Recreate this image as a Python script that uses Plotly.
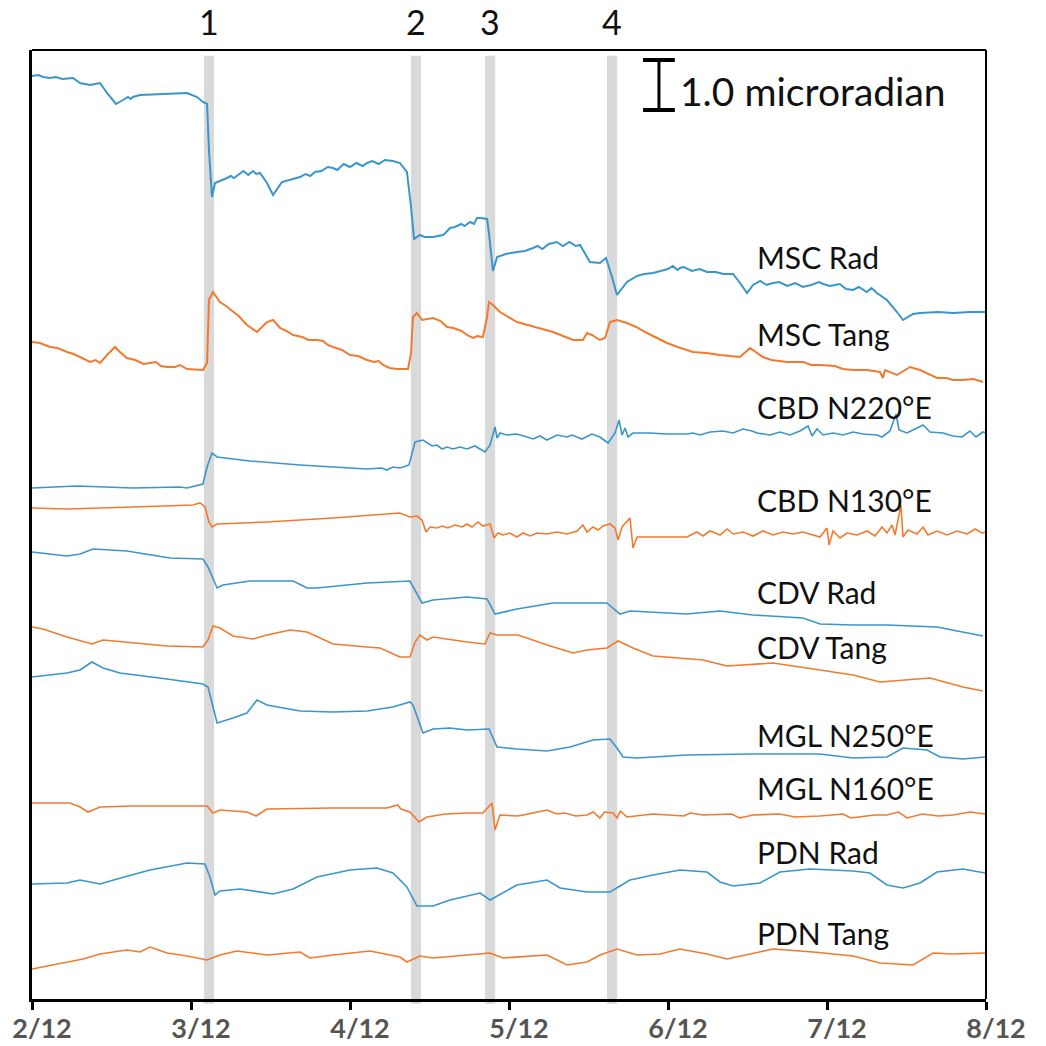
import plotly.graph_objects as go

# ---- x axis (months since 2/12) ----
tick_vals = [0, 1, 2, 3, 4, 5, 6]
tick_text = ["2/12", "3/12", "4/12", "5/12", "6/12", "7/12", "8/12"]

# event bands (month positions) and labels
event_t = [1.113, 2.415, 2.881, 3.648]
event_labels = ["1", "2", "3", "4"]

# ---- series: time (months since 2/12) and tilt change (microradian) ----
msc_rad_t = [0, 0.04, 0.07, 0.113, 0.15, 0.19, 0.258, 0.302, 0.365, 0.428, 0.472, 0.528, 0.572, 0.604, 0.62,
             0.635, 0.679, 0.849, 0.975, 1.038, 1.075, 1.101, 1.113, 1.132, 1.151, 1.226, 1.25, 1.27, 1.308,
             1.33, 1.36, 1.39, 1.41, 1.434, 1.478, 1.516, 1.572, 1.62, 1.686, 1.72, 1.75, 1.78, 1.82, 1.86,
             1.893, 1.92, 1.96, 2.00, 2.04, 2.08, 2.107, 2.14, 2.18, 2.22, 2.270, 2.314, 2.358, 2.384, 2.403,
             2.440, 2.47, 2.522, 2.55, 2.585, 2.60, 2.629, 2.66, 2.70, 2.72, 2.755, 2.78, 2.799, 2.82, 2.862,
             2.874, 2.899, 2.925, 2.98, 3.050, 3.10, 3.151, 3.18, 3.21, 3.25, 3.277, 3.30, 3.34, 3.38, 3.42,
             3.447, 3.509, 3.572, 3.610, 3.648, 3.679, 3.742, 3.805, 3.85, 3.906, 3.95, 4.00, 4.03, 4.06,
             4.075, 4.10, 4.15, 4.20, 4.245, 4.30, 4.35, 4.409, 4.453, 4.497, 4.535, 4.58, 4.62, 4.660, 4.70,
             4.75, 4.80, 4.849, 4.90, 4.95, 4.975, 5.02, 5.08, 5.12, 5.164, 5.20, 5.25, 5.28, 5.314, 5.377,
             5.440, 5.478, 5.541, 5.585, 5.70, 5.792, 5.90, 6.000]
msc_rad_v = [0, 0.02, -0.02, -0.04, -0.02, -0.06, -0.04, -0.14, -0.18, -0.14, -0.34, -0.56, -0.48, -0.42, -0.46,
             -0.42, -0.38, -0.36, -0.34, -0.42, -0.52, -0.56, -1.48, -2.42, -2.14, -2.04, -2.00, -2.04, -1.94,
             -1.90, -1.98, -1.90, -1.96, -1.94, -2.14, -2.38, -2.12, -2.08, -2.02, -1.96, -2.00, -1.92, -1.90, -1.82,
             -1.84, -1.88, -1.76, -1.82, -1.74, -1.80, -1.74, -1.70, -1.76, -1.68, -1.70, -1.74, -1.92, -2.62, -3.26,
             -3.18, -3.22, -3.22, -3.20, -3.18, -3.14, -3.04, -3.02, -2.96, -3.00, -2.92, -2.96, -2.84, -2.84, -2.86,
             -3.14, -3.90, -3.62, -3.56, -3.52, -3.50, -3.44, -3.40, -3.46, -3.36, -3.34, -3.32, -3.40, -3.32, -3.40,
             -3.38, -3.72, -3.74, -3.64, -4.02, -4.38, -4.12, -4.00, -3.96, -3.94, -3.90, -3.86, -3.80, -3.88,
             -3.84, -3.82, -3.90, -3.86, -3.92, -3.92, -3.96, -3.96, -4.14, -4.34, -4.18, -4.10, -4.18, -4.14, -4.12,
             -4.20, -4.14, -4.22, -4.18, -4.12, -4.16, -4.20, -4.16, -4.26, -4.28, -4.22, -4.32, -4.24, -4.34, -4.48,
             -4.72, -4.88, -4.76, -4.74, -4.72, -4.74, -4.72, -4.72]

msc_tang_t = [0, 0.05, 0.113, 0.16, 0.220, 0.26, 0.302, 0.34, 0.365, 0.40, 0.428, 0.472, 0.522, 0.553, 0.597,
              0.65, 0.70, 0.742, 0.78, 0.81, 0.849, 0.90, 0.93, 0.975, 1.075, 1.101, 1.113, 1.138, 1.182, 1.22,
              1.264, 1.30, 1.352, 1.415, 1.478, 1.516, 1.560, 1.60, 1.642, 1.70, 1.74, 1.792, 1.83, 1.86, 1.893,
              1.95, 2.000, 2.05, 2.107, 2.15, 2.18, 2.208, 2.25, 2.296, 2.365, 2.384, 2.396, 2.421, 2.453, 2.522,
              2.57, 2.610, 2.65, 2.70, 2.736, 2.774, 2.80, 2.836, 2.862, 2.874, 2.899, 2.943, 3.050, 3.12, 3.195,
              3.277, 3.34, 3.403, 3.465, 3.491, 3.522, 3.572, 3.604, 3.635, 3.679, 3.742, 3.80, 3.868, 3.994,
              4.06, 4.157, 4.24, 4.327, 4.453, 4.516, 4.597, 4.65, 4.748, 4.85, 4.90, 4.956, 5.05, 5.10, 5.164,
              5.25, 5.333, 5.352, 5.365, 5.440, 5.522, 5.585, 5.65, 5.692, 5.75, 5.792, 5.85, 5.92, 5.981]
msc_tang_v = [0, -0.02, -0.10, -0.12, -0.20, -0.24, -0.30, -0.36, -0.40, -0.36, -0.42, -0.26, -0.10, -0.20, -0.32,
              -0.36, -0.44, -0.42, -0.40, -0.48, -0.50, -0.50, -0.46, -0.54, -0.56, -0.42, 0.84, 1.00, 0.80, 0.72,
              0.60, 0.52, 0.34, 0.20, 0.40, 0.44, 0.28, 0.22, 0.14, 0.10, 0.04, 0.04, 0.02, -0.06, -0.10,
              -0.16, -0.26, -0.28, -0.36, -0.40, -0.38, -0.46, -0.52, -0.54, -0.54, -0.22, 0.50, 0.58, 0.44, 0.48,
              0.42, 0.30, 0.28, 0.22, 0.14, 0.08, 0.12, 0.10, 0.50, 0.80, 0.74, 0.60, 0.40, 0.34, 0.28,
              0.20, 0.12, 0.04, 0.04, 0.18, 0.14, 0.04, 0.08, 0.40, 0.44, 0.38, 0.30, 0.18, -0.02,
              -0.10, -0.20, -0.22, -0.26, -0.30, -0.12, -0.30, -0.36, -0.40, -0.40, -0.46, -0.46, -0.48, -0.54, -0.56,
              -0.56, -0.60, -0.72, -0.56, -0.66, -0.50, -0.56, -0.66, -0.72, -0.72, -0.76, -0.76, -0.74, -0.80]

cbd220_t = [0, 0.283, 0.635, 0.931, 0.975, 1.075, 1.101, 1.132, 1.164, 1.371, 1.686, 1.893, 2.107, 2.20, 2.23,
            2.27, 2.314, 2.371, 2.409, 2.459, 2.484, 2.516, 2.547, 2.579, 2.610, 2.648, 2.692, 2.736, 2.786,
            2.830, 2.849, 2.881, 2.912, 2.925, 2.943, 2.987, 3.050, 3.113, 3.151, 3.195, 3.239, 3.302, 3.365,
            3.396, 3.459, 3.522, 3.572, 3.623, 3.667, 3.692, 3.711, 3.730, 3.748, 3.780, 3.887, 3.994, 4.119,
            4.157, 4.201, 4.264, 4.346, 4.409, 4.472, 4.528, 4.560, 4.642, 4.704, 4.767, 4.830, 4.881, 4.906,
            4.937, 4.975, 5.038, 5.101, 5.164, 5.226, 5.314, 5.346, 5.396, 5.434, 5.453, 5.503, 5.566, 5.604,
            5.648, 5.730, 5.792, 5.849, 5.899, 5.937, 5.981, 6.0]
cbd220_v = [0, 0.04, 0, 0.02, 0, 0.08, 0.42, 0.70, 0.62, 0.54, 0.46, 0.42, 0.38, 0.40, 0.36,
            0.42, 0.40, 0.46, 0.92, 0.96, 0.90, 0.84, 0.86, 0.78, 0.82, 0.78, 0.82, 0.78, 0.84,
            0.76, 0.72, 0.86, 1.22, 1.00, 1.10, 1.06, 1.08, 1.02, 0.98, 1.04, 0.96, 1.06, 1.02,
            1.06, 0.98, 1.08, 1.02, 0.90, 1.10, 1.36, 1.06, 1.20, 1.02, 1.10, 1.10, 1.08, 1.08,
            1.10, 1.06, 1.12, 1.14, 1.10, 1.18, 1.14, 1.10, 1.06, 1.12, 1.06, 1.14, 1.24, 1.04,
            1.18, 1.06, 1.10, 1.06, 1.12, 1.08, 1.06, 1.02, 1.14, 1.48, 1.16, 1.10, 1.20, 1.26,
            1.12, 1.10, 1.04, 1.02, 1.14, 1.02, 1.12, 1.10]

cbd130_t = [0, 0.220, 0.635, 1.013, 1.057, 1.088, 1.113, 1.132, 1.164, 1.478, 1.893, 2.314, 2.377, 2.421,
            2.453, 2.478, 2.503, 2.547, 2.579, 2.616, 2.660, 2.704, 2.736, 2.767, 2.805, 2.836, 2.881, 2.906,
            2.931, 2.962, 3.006, 3.050, 3.088, 3.132, 3.176, 3.239, 3.302, 3.365, 3.428, 3.465, 3.491, 3.528,
            3.560, 3.591, 3.635, 3.667, 3.686, 3.711, 3.761, 3.780, 3.805, 3.994, 4.119, 4.157, 4.182, 4.220,
            4.264, 4.327, 4.371, 4.409, 4.472, 4.535, 4.597, 4.660, 4.723, 4.786, 4.849, 4.956, 5.000, 5.013,
            5.038, 5.082, 5.126, 5.189, 5.252, 5.302, 5.346, 5.377, 5.409, 5.428, 5.465, 5.478, 5.509, 5.566,
            5.604, 5.635, 5.692, 5.755, 5.818, 5.881, 5.931, 5.975, 6.0]
cbd130_v = [0, -0.02, 0.02, 0.06, 0.10, 0.02, -0.28, -0.38, -0.32, -0.28, -0.20, -0.10, -0.18, -0.16,
            -0.24, -0.48, -0.38, -0.40, -0.36, -0.40, -0.34, -0.38, -0.32, -0.38, -0.28, -0.36, -0.32, -0.60,
            -0.50, -0.54, -0.50, -0.58, -0.50, -0.56, -0.50, -0.52, -0.48, -0.52, -0.46, -0.34, -0.48, -0.38,
            -0.44, -0.36, -0.32, -0.40, -0.64, -0.38, -0.20, -0.80, -0.58, -0.58, -0.58, -0.52, -0.48, -0.56,
            -0.46, -0.54, -0.42, -0.52, -0.48, -0.56, -0.46, -0.54, -0.48, -0.52, -0.48, -0.58, -0.40, -0.74,
            -0.46, -0.60, -0.50, -0.54, -0.46, -0.56, -0.38, -0.50, -0.34, -0.54, 0.06, -0.58, -0.44, -0.52,
            -0.38, -0.54, -0.46, -0.54, -0.46, -0.52, -0.42, -0.50, -0.48]

cdv_rad_t = [0, 0.220, 0.302, 0.384, 0.597, 0.742, 0.868, 1.075, 1.107, 1.164, 1.201, 1.371, 1.642, 1.730,
             1.792, 2.107, 2.377, 2.453, 2.522, 2.736, 2.862, 2.912, 3.050, 3.277, 3.616, 3.698, 3.761, 4.119,
             4.327, 4.535, 4.849, 4.956, 5.164, 5.377, 5.692, 5.981]
cdv_rad_v = [0, -0.08, -0.04, 0.06, 0.02, -0.06, -0.12, -0.14, -0.30, -0.72, -0.66, -0.58, -0.58, -0.72,
             -0.72, -0.62, -0.58, -1.02, -0.96, -0.90, -0.94, -1.24, -1.14, -1.02, -1.02, -1.24, -1.18, -1.24,
             -1.18, -1.26, -1.32, -1.44, -1.46, -1.46, -1.50, -1.68]

cdv_tang_t = [0, 0.069, 0.220, 0.377, 0.447, 0.635, 0.849, 1.075, 1.107, 1.138, 1.182, 1.264, 1.390, 1.478,
              1.623, 1.730, 1.811, 1.893, 2.107, 2.189, 2.314, 2.377, 2.409, 2.440, 2.484, 2.522, 2.736, 2.849,
              2.881, 2.925, 3.057, 3.239, 3.403, 3.491, 3.616, 3.686, 3.780, 3.906, 4.220, 4.371, 4.660, 4.956,
              5.164, 5.333, 5.478, 5.648, 5.855, 5.981]
cdv_tang_v = [0, -0.04, -0.20, -0.34, -0.26, -0.32, -0.38, -0.40, -0.26, 0.02, -0.02, -0.18, -0.24, -0.16,
              -0.06, -0.10, -0.22, -0.34, -0.40, -0.42, -0.60, -0.60, -0.30, -0.16, -0.26, -0.20, -0.30, -0.34,
              -0.12, -0.16, -0.16, -0.36, -0.52, -0.46, -0.42, -0.28, -0.42, -0.58, -0.66, -0.78, -0.72, -0.86,
              -0.96, -1.10, -1.06, -1.02, -1.20, -1.28]

mgl250_t = [0, 0.220, 0.302, 0.377, 0.447, 0.553, 0.849, 1.075, 1.107, 1.164, 1.264, 1.352, 1.415, 1.478,
            1.686, 1.893, 2.107, 2.270, 2.377, 2.396, 2.459, 2.522, 2.629, 2.736, 2.874, 2.925, 3.050, 3.239,
            3.384, 3.528, 3.635, 3.679, 3.717, 3.805, 4.119, 4.535, 4.956, 5.164, 5.377, 5.478, 5.629, 5.711,
            5.855, 5.994]
mgl250_v = [0, 0.08, 0.14, 0.30, 0.18, 0.08, -0.04, -0.14, -0.20, -0.92, -0.82, -0.72, -0.46, -0.56,
            -0.68, -0.70, -0.68, -0.60, -0.50, -0.56, -1.12, -1.04, -1.02, -1.06, -1.04, -1.40, -1.44, -1.48,
            -1.40, -1.26, -1.24, -1.42, -1.60, -1.62, -1.56, -1.54, -1.54, -1.62, -1.60, -1.42, -1.46, -1.60,
            -1.64, -1.60]

mgl160_t = [0, 0.239, 0.302, 0.352, 0.428, 0.635, 1.101, 1.138, 1.182, 1.352, 1.409, 1.478, 1.893, 2.233,
            2.30, 2.32, 2.377, 2.434, 2.484, 2.60, 2.736, 2.836, 2.893, 2.912, 2.943, 3.057, 3.15, 3.239,
            3.30, 3.35, 3.42, 3.491, 3.53, 3.572, 3.60, 3.654, 3.68, 3.70, 3.742, 3.906, 4.10, 4.14, 4.220,
            4.40, 4.45, 4.535, 4.70, 4.80, 4.956, 5.10, 5.15, 5.30, 5.377, 5.45, 5.503, 5.60, 5.70, 5.792,
            5.90, 5.994]
mgl160_v = [0, 0, -0.08, -0.18, -0.08, -0.06, -0.06, -0.20, -0.14, -0.18, -0.26, -0.12, -0.10, -0.10,
            -0.04, -0.12, -0.18, -0.38, -0.28, -0.22, -0.20, -0.20, 0, -0.54, -0.24, -0.26, -0.20, -0.14,
            -0.22, -0.20, -0.26, -0.24, -0.18, -0.30, -0.18, -0.20, -0.30, -0.16, -0.28, -0.22, -0.26, -0.20, -0.24,
            -0.22, -0.30, -0.24, -0.22, -0.28, -0.26, -0.22, -0.30, -0.24, -0.24, -0.18, -0.30, -0.22, -0.26, -0.24,
            -0.18, -0.22]

pdn_rad_t = [0, 0.220, 0.302, 0.428, 0.535, 0.742, 0.975, 1.088, 1.119, 1.151, 1.182, 1.308, 1.516, 1.642,
             1.792, 2.000, 2.170, 2.270, 2.358, 2.421, 2.522, 2.629, 2.818, 2.881, 3.050, 3.239, 3.321, 3.491,
             3.635, 3.679, 3.761, 3.906, 4.075, 4.245, 4.327, 4.409, 4.579, 4.704, 4.893, 5.164, 5.270, 5.377,
             5.478, 5.585, 5.692, 5.855, 5.994]
pdn_rad_v = [0, 0.02, 0.08, 0, 0.10, 0.28, 0.42, 0.40, 0.14, -0.22, -0.14, -0.10, -0.20, -0.10,
             0.14, 0.28, 0.32, 0.22, -0.06, -0.44, -0.44, -0.32, -0.18, -0.32, -0.02, 0.08, -0.08, -0.16,
             -0.16, -0.08, 0.08, 0.18, 0.28, 0.24, 0.04, -0.04, 0.02, 0.24, 0.30, 0.26, 0.22, -0.02,
             -0.08, 0.02, 0.24, 0.30, 0.22]

pdn_tang_t = [0, 0.132, 0.321, 0.428, 0.597, 0.679, 0.742, 0.849, 0.975, 1.101, 1.182, 1.289, 1.478, 1.686,
              1.748, 1.893, 2.126, 2.314, 2.358, 2.440, 2.522, 2.736, 2.881, 2.962, 3.057, 3.239, 3.365, 3.491,
              3.572, 3.679, 3.805, 3.950, 4.075, 4.245, 4.371, 4.535, 4.660, 4.912, 5.164, 5.333, 5.541, 5.667,
              5.792, 5.994]
pdn_tang_v = [0, 0.08, 0.20, 0.30, 0.38, 0.34, 0.44, 0.32, 0.26, 0.18, 0.28, 0.36, 0.28, 0.34,
              0.22, 0.28, 0.36, 0.24, 0.14, 0.26, 0.22, 0.28, 0.32, 0.22, 0.24, 0.28, 0.08, 0.14,
              0.28, 0.40, 0.28, 0.30, 0.40, 0.30, 0.20, 0.32, 0.40, 0.34, 0.26, 0.12, 0.08, 0.32,
              0.30, 0.32]

series_names = ["MSC Rad", "MSC Tang", "CBD N220°E", "CBD N130°E", "CDV Rad", "CDV Tang",
                "MGL N250°E", "MGL N160°E", "PDN Rad", "PDN Tang"]
series_t = [msc_rad_t, msc_tang_t, cbd220_t, cbd130_t, cdv_rad_t, cdv_tang_t,
            mgl250_t, mgl160_t, pdn_rad_t, pdn_tang_t]
series_v = [msc_rad_v, msc_tang_v, cbd220_v, cbd130_v, cdv_rad_v, cdv_tang_v,
            mgl250_v, mgl160_v, pdn_rad_v, pdn_tang_v]
# vertical stacking offset of each trace (microradian)
series_offset = [18.46, 13.14, 10.22, 9.82, 8.94, 7.44, 6.44, 3.92, 2.30, 0.60]
# label positions (microradian)
label_y = [14.84, 13.30, 11.84, 9.98, 8.14, 7.04, 5.28, 4.22, 2.94, 1.32]

BLUE = "#3a95cb"
ORANGE = "#f27a2e"
FONT = "Lato"

fig = go.Figure()
for i, (name, t, v, off) in enumerate(zip(series_names, series_t, series_v, series_offset)):
    color = BLUE if i % 2 == 0 else ORANGE
    width = 2.0 if i < 2 else 1.6
    fig.add_trace(go.Scatter(
        x=t, y=[off + val for val in v], mode="lines", name=name,
        line=dict(color=color, width=width), showlegend=False, hoverinfo="skip"))

shapes = []
for et in event_t:
    shapes.append(dict(type="rect", xref="x", yref="paper", x0=et - 0.032, x1=et + 0.032,
                       y0=-0.005, y1=0.994, fillcolor="#d9d9d9", line=dict(width=0), layer="below"))
# top and right frame lines
shapes.append(dict(type="line", xref="paper", yref="paper", x0=0, x1=1, y0=1, y1=1,
                   line=dict(color="black", width=2)))
shapes.append(dict(type="line", xref="paper", yref="paper", x0=1, x1=1, y0=0, y1=1,
                   line=dict(color="black", width=2)))
# scale bar: 1.0 microradian
bar_x = 3.943
bar_bottom = 17.78
bar_len = 1.0
shapes.append(dict(type="line", xref="x", yref="y", x0=bar_x, x1=bar_x, y0=bar_bottom, y1=bar_bottom + bar_len,
                   line=dict(color="black", width=3)))
shapes.append(dict(type="line", xref="x", yref="y", x0=bar_x - 0.1, x1=bar_x + 0.1, y0=bar_bottom, y1=bar_bottom,
                   line=dict(color="black", width=4)))
shapes.append(dict(type="line", xref="x", yref="y", x0=bar_x - 0.1, x1=bar_x + 0.1,
                   y0=bar_bottom + bar_len, y1=bar_bottom + bar_len,
                   line=dict(color="black", width=4)))

annotations = []
for name, ly in zip(series_names, label_y):
    annotations.append(dict(x=4.547, y=ly, xref="x", yref="y", text=name, showarrow=False,
                            xanchor="left", yanchor="middle",
                            font=dict(family=FONT, size=30, color="#111111")))
for et, lab in zip(event_t, event_labels):
    annotations.append(dict(x=et, y=1.03, xref="x", yref="paper", text=lab, showarrow=False,
                            xanchor="center", yanchor="middle",
                            font=dict(family=FONT, size=34, color="#111111")))
annotations.append(dict(x=4.065, y=18.16, xref="x", yref="y", text="1.0 microradian", showarrow=False,
                        xanchor="left", yanchor="middle",
                        font=dict(family=FONT, size=39, color="#111111")))

fig.update_layout(
    width=1046, height=1046,
    margin=dict(l=32, r=60, t=50, b=47, autoexpand=False),
    plot_bgcolor="white", paper_bgcolor="white",
    shapes=shapes, annotations=annotations,
    xaxis=dict(range=[0, 6], tickvals=tick_vals, ticktext=tick_text, ticks="outside",
               ticklen=8, tickwidth=3, tickcolor="black", showline=True, linewidth=3,
               linecolor="black", showgrid=False, zeroline=False, ticklabelshift=10,
               automargin=False, ticklabelstandoff=-4,
               tickfont=dict(family=FONT, size=27, color="#555555", weight="bold")),
    yaxis=dict(range=[0, 18.98], showline=True, linewidth=3, linecolor="black", automargin=False,
               showticklabels=False, ticks="", showgrid=False, zeroline=False),
)

fig.write_html("out.html")
